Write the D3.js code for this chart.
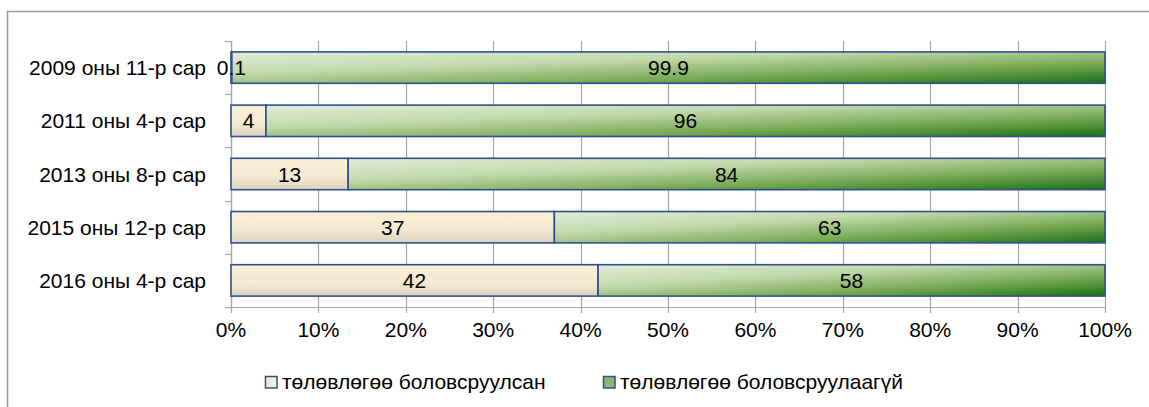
<!DOCTYPE html>
<html>
<head>
<meta charset="utf-8">
<script src="https://cdn.jsdelivr.net/npm/d3@7"></script>
<style>
  body { margin: 0; background: #fff; }
  svg { display: block; font-family: "Liberation Sans", Arial, sans-serif; }
</style>
</head>
<body>
<div id="viz"></div>
<script>
var categories = ['2009 оны 11-р сар', '2011 оны 4-р сар', '2013 оны 8-р сар', '2015 оны 12-р сар', '2016 оны 4-р сар'];
var doneVals = [0.1, 4, 13, 37, 42];
var notDoneVals = [99.9, 96, 84, 63, 58];
var doneLabels = ['0.1', '4', '13', '37', '42'];
var notDoneLabels = ['99.9', '96', '84', '63', '58'];
var seriesNames = ['төлөвлөгөө боловсруулсан', 'төлөвлөгөө боловсруулаагүй'];
var xTicks = [0, 10, 20, 30, 40, 50, 60, 70, 80, 90, 100];

var width = 1149,
    height = 407,
    plotLeft = 231, plotRight = 1105,
    plotTop = 41, plotBottom = 307,
    fontSize = 21;

var svg = d3.select('#viz').append('svg')
  .attr('width', width)
  .attr('height', height);

var defs = svg.append('defs');
var g1 = defs.append('linearGradient').attr('id', 'gDone')
  .attr('x1', 0).attr('y1', 0).attr('x2', 0).attr('y2', 1);
g1.append('stop').attr('offset', '0%').attr('stop-color', '#fcefd6');
g1.append('stop').attr('offset', '60%').attr('stop-color', '#f3e8d2');
g1.append('stop').attr('offset', '100%').attr('stop-color', '#ddd2bf');

var g2 = defs.append('linearGradient').attr('id', 'gNot')
  .attr('x1', 0).attr('y1', 0).attr('x2', 1).attr('y2', 1);
g2.append('stop').attr('offset', '0%').attr('stop-color', '#e1edd9');
g2.append('stop').attr('offset', '35%').attr('stop-color', '#c3d9ac');
g2.append('stop').attr('offset', '70%').attr('stop-color', '#74a752');
g2.append('stop').attr('offset', '100%').attr('stop-color', '#1a6e15');

// chart frame
svg.append('rect')
  .attr('x', 7.5).attr('y', 11.5)
  .attr('width', 1160).attr('height', 420)
  .attr('fill', 'none')
  .attr('stroke', '#9a9a9a')
  .attr('stroke-width', 1.5);

var xScale = d3.scaleLinear()
  .domain([0, 100])
  .range([plotLeft, plotRight]);

var yScale = d3.scaleBand()
  .domain(categories)
  .range([plotTop, plotBottom])
  .paddingInner(0.41)
  .paddingOuter(0.205);

// vertical gridlines
svg.append('g').selectAll('line').data(xTicks)
  .enter().append('line')
    .attr('x1', function(d) { return Math.round(xScale(d)) + 0.5; })
    .attr('x2', function(d) { return Math.round(xScale(d)) + 0.5; })
    .attr('y1', plotTop)
    .attr('y2', plotBottom + 6)
    .attr('stroke', '#a6a6a6')
    .attr('stroke-width', 1.2);

// bottom axis line
svg.append('line')
  .attr('x1', plotLeft).attr('x2', plotRight + 1)
  .attr('y1', plotBottom + 0.5).attr('y2', plotBottom + 0.5)
  .attr('stroke', '#a6a6a6').attr('stroke-width', 1.2);

// left axis line + ticks between categories
svg.append('line')
  .attr('x1', plotLeft + 0.5).attr('x2', plotLeft + 0.5)
  .attr('y1', plotTop).attr('y2', plotBottom)
  .attr('stroke', '#a6a6a6').attr('stroke-width', 1.2);

var bounds = d3.range(categories.length + 1).map(function(i) {
  return plotTop + i * (plotBottom - plotTop) / categories.length;
});
svg.append('g').selectAll('line').data(bounds)
  .enter().append('line')
    .attr('x1', plotLeft - 6).attr('x2', plotLeft)
    .attr('y1', function(d) { return Math.round(d) + 0.5; })
    .attr('y2', function(d) { return Math.round(d) + 0.5; })
    .attr('stroke', '#a6a6a6').attr('stroke-width', 1.2);

// x tick labels
svg.append('g').selectAll('text').data(xTicks)
  .enter().append('text')
    .attr('x', function(d) { return xScale(d); })
    .attr('y', 337)
    .attr('text-anchor', 'middle')
    .attr('font-size', fontSize)
    .attr('fill', '#000')
    .text(function(d) { return d + '%'; });

// category labels
svg.append('g').selectAll('text').data(categories)
  .enter().append('text')
    .attr('x', 206)
    .attr('y', function(d) { return yScale(d) + yScale.bandwidth() / 2 + 7.5; })
    .attr('text-anchor', 'end')
    .attr('font-size', fontSize)
    .attr('fill', '#000')
    .text(function(d) { return d; });

// bars (100% stacked: shares of each row's total)
var rows = categories.map(function(c, i) {
  var tot = doneVals[i] + notDoneVals[i];
  return { cat: c, a: doneVals[i] / tot * 100, b: notDoneVals[i] / tot * 100,
           la: doneLabels[i], lb: notDoneLabels[i] };
});

var bars = svg.append('g');
bars.selectAll('rect.done').data(rows)
  .enter().append('rect')
    .attr('class', 'done')
    .attr('x', xScale(0))
    .attr('y', function(d) { return yScale(d.cat); })
    .attr('width', function(d) { return xScale(d.a) - xScale(0); })
    .attr('height', yScale.bandwidth())
    .attr('fill', 'url(#gDone)')
    .attr('stroke', '#2d5190')
    .attr('stroke-width', 1.6);

bars.selectAll('rect.not').data(rows)
  .enter().append('rect')
    .attr('class', 'not')
    .attr('x', function(d) { return xScale(d.a); })
    .attr('y', function(d) { return yScale(d.cat); })
    .attr('width', function(d) { return xScale(d.a + d.b) - xScale(d.a); })
    .attr('height', yScale.bandwidth())
    .attr('fill', 'url(#gNot)')
    .attr('stroke', '#2d5190')
    .attr('stroke-width', 1.6);

// data labels
bars.selectAll('text.la').data(rows)
  .enter().append('text')
    .attr('x', function(d) { return xScale(d.a / 2); })
    .attr('y', function(d) { return yScale(d.cat) + yScale.bandwidth() / 2 + 7.5; })
    .attr('text-anchor', 'middle')
    .attr('font-size', fontSize)
    .attr('fill', '#000')
    .text(function(d) { return d.la; });

bars.selectAll('text.lb').data(rows)
  .enter().append('text')
    .attr('x', function(d) { return xScale(d.a + d.b / 2); })
    .attr('y', function(d) { return yScale(d.cat) + yScale.bandwidth() / 2 + 7.5; })
    .attr('text-anchor', 'middle')
    .attr('font-size', fontSize)
    .attr('fill', '#000')
    .text(function(d) { return d.lb; });

// legend
var legendX = [265, 603];
var legendFill = ['#f6ecd8', '#8fb56f'];
var legend = svg.append('g').selectAll('g').data(seriesNames)
  .enter().append('g')
    .attr('transform', function(d, i) { return 'translate(' + legendX[i] + ',376)'; });
legend.append('rect')
  .attr('x', 0.5).attr('y', 0.5)
  .attr('width', 11.5).attr('height', 11.5)
  .attr('fill', function(d, i) { return legendFill[i]; })
  .attr('stroke', '#2d5190')
  .attr('stroke-width', 1.5);
legend.append('text')
  .attr('x', 17)
  .attr('y', 13)
  .attr('font-size', fontSize)
  .attr('fill', '#000')
  .text(function(d) { return d; });
</script>
</body>
</html>
